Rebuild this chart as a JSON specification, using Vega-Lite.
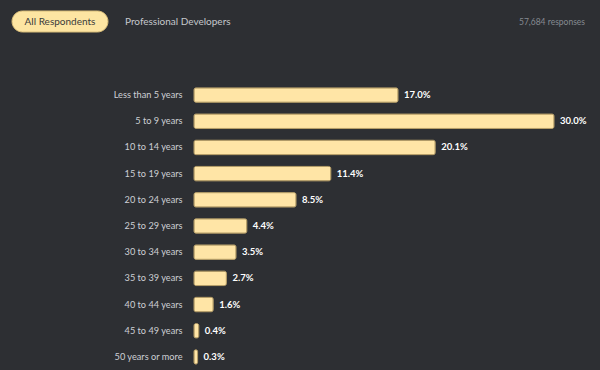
{
  "$schema": "https://vega.github.io/schema/vega-lite/v6.json",
  "width": 406,
  "height": 370,
  "autosize": {"type": "none"},
  "padding": {"left": 194, "top": 0, "right": 0, "bottom": 0},
  "background": "#2d2f33",
  "config": {"view": {"stroke": null}, "font": "Lato"},
  "datasets": {
    "bars": [
      {"group": "Less than 5 years", "pct": 17.0, "label": "17.0%"},
      {"group": "5 to 9 years", "pct": 30.0, "label": "30.0%"},
      {"group": "10 to 14 years", "pct": 20.1, "label": "20.1%"},
      {"group": "15 to 19 years", "pct": 11.4, "label": "11.4%"},
      {"group": "20 to 24 years", "pct": 8.5, "label": "8.5%"},
      {"group": "25 to 29 years", "pct": 4.4, "label": "4.4%"},
      {"group": "30 to 34 years", "pct": 3.5, "label": "3.5%"},
      {"group": "35 to 39 years", "pct": 2.7, "label": "2.7%"},
      {"group": "40 to 44 years", "pct": 1.6, "label": "1.6%"},
      {"group": "45 to 49 years", "pct": 0.4, "label": "0.4%"},
      {"group": "50 years or more", "pct": 0.3, "label": "0.3%"}
    ],
    "header": [
      {"row": "h", "kind": "active", "text": "All Respondents", "x": -15.1667, "x2": -7.1667, "tx": -11.1667},
      {"row": "h", "kind": "tab", "text": "Professional Developers", "tx": -5.75},
      {"row": "h", "kind": "count", "text": "57,684 responses", "tx": 32.583}
    ]
  },
  "layer": [
    {
      "data": {"name": "bars"},
      "encoding": {
        "y": {
          "field": "group",
          "type": "nominal",
          "sort": null,
          "scale": {"range": [82, 370], "paddingInner": 0.45, "paddingOuter": 0.225},
          "axis": {
            "title": null,
            "domain": false,
            "ticks": false,
            "grid": false,
            "labelPadding": 12,
            "labelColor": "#cdd0d5",
            "labelFontSize": 9.2,
            "labelFont": "Lato"
          }
        }
      },
      "layer": [
        {
          "mark": {"type": "bar", "fill": "#ffe5a6", "stroke": "#b8a06a", "strokeWidth": 1, "cornerRadius": 2},
          "encoding": {
            "x": {"field": "pct", "type": "quantitative", "scale": {"domain": [0, 33.8333], "nice": false, "zero": false}, "axis": null}
          }
        },
        {
          "mark": {"type": "text", "align": "left", "baseline": "middle", "dx": 6, "fill": "#ffffff", "fontWeight": "bold", "fontSize": 9.5},
          "encoding": {
            "x": {"field": "pct", "type": "quantitative", "scale": {"domain": [0, 33.8333], "nice": false, "zero": false}, "axis": null},
            "text": {"field": "label"}
          }
        }
      ]
    },
    {
      "data": {"name": "header"},
      "encoding": {
        "y": {"field": "row", "type": "nominal", "scale": {"domain": ["h"], "range": [11, 32], "paddingInner": 0, "paddingOuter": 0}, "axis": null}
      },
      "layer": [
        {
          "transform": [{"filter": "datum.kind === 'active'"}],
          "mark": {"type": "bar", "fill": "#fde5a2", "stroke": "#d6bb78", "strokeWidth": 1, "cornerRadius": 10.5},
          "encoding": {
            "x": {"field": "x", "type": "quantitative", "scale": {"domain": [0, 33.8333], "nice": false, "zero": false}, "axis": null},
            "x2": {"field": "x2"}
          }
        },
        {
          "transform": [{"filter": "datum.kind === 'active'"}],
          "mark": {"type": "text", "align": "center", "baseline": "middle", "fill": "#3a3a3a", "fontSize": 10},
          "encoding": {
            "x": {"field": "tx", "type": "quantitative", "scale": {"domain": [0, 33.8333], "nice": false, "zero": false}, "axis": null},
            "text": {"field": "text"}
          }
        },
        {
          "transform": [{"filter": "datum.kind === 'tab'"}],
          "mark": {"type": "text", "align": "left", "baseline": "middle", "fill": "#c5c8cc", "fontSize": 10},
          "encoding": {
            "x": {"field": "tx", "type": "quantitative", "scale": {"domain": [0, 33.8333], "nice": false, "zero": false}, "axis": null},
            "text": {"field": "text"}
          }
        },
        {
          "transform": [{"filter": "datum.kind === 'count'"}],
          "mark": {"type": "text", "align": "right", "baseline": "middle", "fill": "#858a91", "fontSize": 8.5},
          "encoding": {
            "x": {"field": "tx", "type": "quantitative", "scale": {"domain": [0, 33.8333], "nice": false, "zero": false}, "axis": null},
            "text": {"field": "text"}
          }
        }
      ]
    }
  ],
  "resolve": {"scale": {"y": "independent"}}
}
